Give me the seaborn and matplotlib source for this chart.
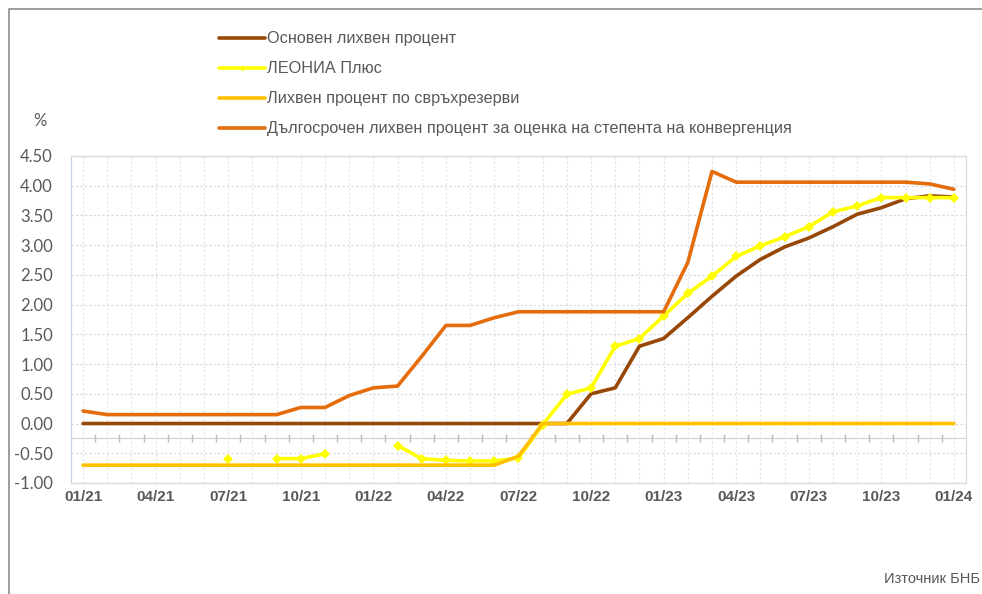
import numpy as np
import pandas as pd
import matplotlib
matplotlib.use("Agg")
import matplotlib.pyplot as plt
import seaborn as sns
from matplotlib.lines import Line2D

# monthly data, 01/2021 .. 01/2024 (37 months)
months = pd.period_range("2021-01", "2024-01", freq="M")
month_labels = [m.strftime("%m/%y") for m in months]

base_rate = [0.00] * 20 + [0.00, 0.50, 0.60, 1.30, 1.43, 1.78, 2.14, 2.48, 2.76, 2.97,
                           3.12, 3.31, 3.52, 3.63, 3.78, 3.83, 3.81]

nan = np.nan
leonia = [nan, nan, nan, nan, nan, nan, -0.59, nan, -0.59, -0.59,
          -0.51, nan, nan, -0.37, -0.59, -0.62, -0.63, -0.63, -0.58, -0.02,
          0.49, 0.60, 1.30, 1.43, 1.81, 2.19, 2.48, 2.81, 2.99, 3.14,
          3.31, 3.56, 3.66, 3.80, 3.80, 3.80, 3.80]

excess_reserves = [-0.70] * 18 + [-0.55] + [0.00] * 18

long_term = [0.21, 0.15, 0.15, 0.15, 0.15, 0.15, 0.15, 0.15, 0.15, 0.27,
             0.27, 0.47, 0.60, 0.63, 1.13, 1.65, 1.65, 1.78, 1.88, 1.88,
             1.88, 1.88, 1.88, 1.88, 1.88, 2.71, 4.24, 4.06, 4.06, 4.06,
             4.06, 4.06, 4.06, 4.06, 4.06, 4.03, 3.94]

names = ["Основен лихвен процент",
         "ЛЕОНИА Плюс",
         "Лихвен процент по свръхрезерви",
         "Дългосрочен лихвен процент за оценка на степента на конвергенция"]
colors = ["#974706", "#FFFF00", "#FFC000", "#E46C0A"]

sns.set_theme(style="white")
plt.rcParams["font.family"] = ["Liberation Sans", "DejaVu Sans"]

idx = np.arange(len(months))
df = pd.DataFrame({"i": idx, "base": base_rate, "leonia": leonia,
                   "excess": excess_reserves, "lt": long_term})
# segment id so gaps in ЛЕОНИА Плюс stay gaps
df["seg"] = df["leonia"].isna().cumsum()
df_leo = df.dropna(subset=["leonia"])

fig = plt.figure(figsize=(9.82, 5.94), dpi=100)
ax = fig.add_axes([0.0723, 0.1869, 0.9114, 0.5505])

lw = 2.6
sns.lineplot(data=df, x="i", y="base", color=colors[0], lw=lw, ax=ax)
sns.lineplot(data=df_leo, x="i", y="leonia", units="seg", estimator=None,
             color=colors[1], lw=lw, marker="D", markersize=5,
             markeredgewidth=0, ax=ax)
sns.lineplot(data=df, x="i", y="excess", color=colors[2], lw=lw, ax=ax)
sns.lineplot(data=df, x="i", y="lt", color=colors[3], lw=lw, ax=ax)

ax.set_xlim(-0.5, 36.5)
ax.set_ylim(-1.0, 4.5)
ax.set_xlabel("")
ax.set_ylabel("")

# grid
yt = np.arange(-1.0, 4.51, 0.5)
ax.set_yticks(yt)
ax.set_yticklabels([f"{v:.2f}" for v in yt],
                   family=["Lato", "DejaVu Sans"], fontsize=12, color="#595959")
ax.set_xticks(idx, minor=True)
ax.set_xticks(idx[::3])
ax.set_xticklabels(month_labels[::3], fontsize=11, fontweight="bold",
                   color="#595959")
ax.grid(axis="y", which="major", color="#d6d7e2", lw=0.8, ls=(0, (2, 2)))
ax.grid(axis="x", which="both", color="#e2e2ea", lw=0.8, ls=(0, (2, 2)))
ax.tick_params(axis="both", which="both", length=0)
ax.tick_params(axis="y", pad=13)
ax.tick_params(axis="x", pad=5)

# category axis line with ticks between months
ax.axhline(-0.24, color="#d4d4d4", lw=0.9, zorder=1)
ax.plot(idx[:-1] + 0.5, [-0.24] * (len(idx) - 1), ls="none", marker="|",
        color="#bcbcbc", markersize=6, zorder=1)

for side, sp in ax.spines.items():
    sp.set_color("#d9d9e3")
    sp.set_linewidth(0.9)
ax.spines["left"].set_color("#c6d2ea")

# legend
handles = [Line2D([], [], color=colors[0], lw=lw),
           Line2D([], [], color=colors[1], lw=lw, marker="D", markersize=3,
                  markeredgewidth=0),
           Line2D([], [], color=colors[2], lw=lw),
           Line2D([], [], color=colors[3], lw=lw)]
leg = fig.legend(handles, names, loc="upper left",
                 bbox_to_anchor=(0.216, 0.958), frameon=False,
                 fontsize=11.7, handlelength=2.85, handletextpad=0.12,
                 labelspacing=0.92, borderaxespad=0)
for t in leg.get_texts():
    t.set_color("#595959")

fig.text(0.034, 0.788, "%", fontsize=12, color="#595959",
         family=["Lato", "DejaVu Sans"])
fig.text(0.998, 0.018, "Източник БНБ", fontsize=10.5, color="#595959",
         ha="right")

# outer frame (left and top)
fig.add_artist(Line2D([0.009, 0.009, 1.0], [0.0, 0.985, 0.985],
                      transform=fig.transFigure, color="#8c8c8c", lw=1.2))

fig.savefig("out.png", dpi=100)
